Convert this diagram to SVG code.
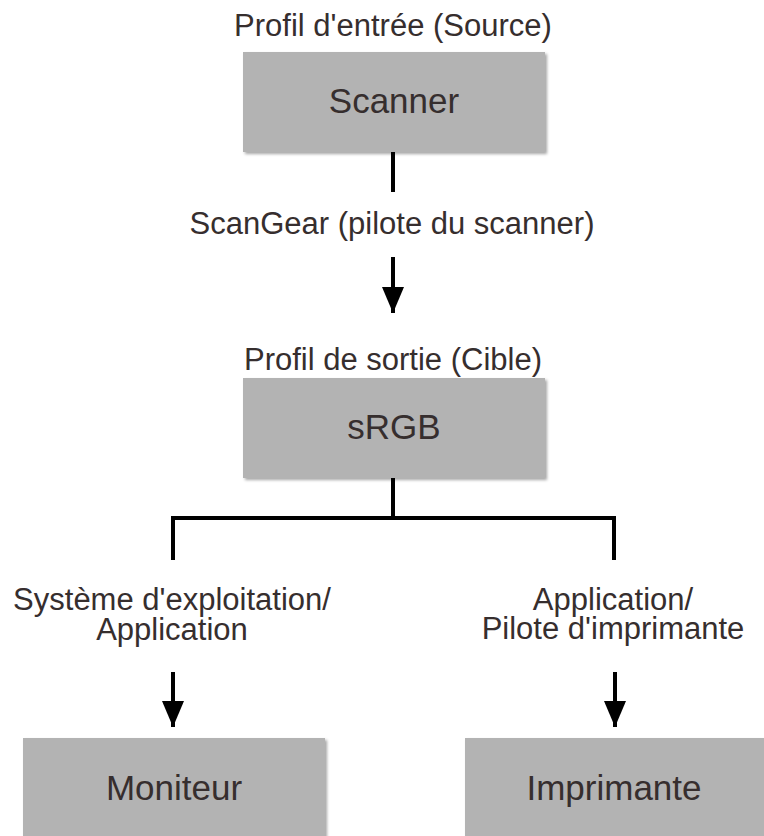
<svg xmlns="http://www.w3.org/2000/svg" width="764" height="836" viewBox="0 0 764 836">
<defs>
<filter id="sh" x="-5%" y="-5%" width="115%" height="120%">
<feDropShadow dx="2" dy="2" stdDeviation="1.5" flood-color="#000" flood-opacity="0.35"/>
</filter>
<marker id="ah" markerWidth="6.5" markerHeight="5.5" refX="6.5" refY="2.75" orient="auto" markerUnits="strokeWidth">
<path d="M0,0 L6.5,2.75 L0,5.5 Z" fill="#000"/>
</marker>
</defs>
<style>
.box{fill:#b3b3b3;filter:url(#sh)}
.t{font-family:"Liberation Sans",Arial,sans-serif;fill:#362e2e;text-anchor:middle}
.lbl{font-size:31px}
.bt{font-size:35px}
.c{stroke:#000;stroke-width:4;fill:none}
</style>
<rect width="764" height="836" fill="#fff"/>
<g id="connectors">
<line class="c" x1="393" y1="152" x2="393" y2="192"/>
<line class="c" x1="393" y1="257" x2="393" y2="313" marker-end="url(#ah)"/>
<path class="c" d="M393,478 V518 M173,560 V518 H614 V560"/>
<line class="c" x1="173" y1="672" x2="173" y2="727" marker-end="url(#ah)"/>
<line class="c" x1="615" y1="672" x2="615" y2="727" marker-end="url(#ah)"/>
</g>
<g id="label-scangear"><text class="t lbl" x="392" y="234">ScanGear (pilote du scanner)</text></g>
<g id="node-scanner">
<text class="t lbl" x="393" y="36">Profil d'entrée (Source)</text>
<rect class="box" x="243" y="52" width="302" height="100"/>
<text class="t bt" x="394" y="113">Scanner</text>
</g>
<g id="node-srgb">
<text class="t lbl" x="393" y="370">Profil de sortie (Cible)</text>
<rect class="box" x="243" y="378" width="302" height="100"/>
<text class="t bt" x="394" y="439">sRGB</text>
</g>
<g id="label-left">
<text class="t lbl" x="172" y="610">Système d'exploitation/</text>
<text class="t lbl" x="172" y="640">Application</text>
</g>
<g id="label-right">
<text class="t lbl" x="613" y="610">Application/</text>
<text class="t lbl" x="613" y="639">Pilote d'imprimante</text>
</g>
<g id="node-moniteur">
<rect class="box" x="23" y="738" width="302" height="110"/>
<text class="t bt" x="174" y="800">Moniteur</text>
</g>
<g id="node-imprimante">
<rect class="box" x="465" y="738" width="302" height="110"/>
<text class="t bt" x="614" y="800">Imprimante</text>
</g>
</svg>
